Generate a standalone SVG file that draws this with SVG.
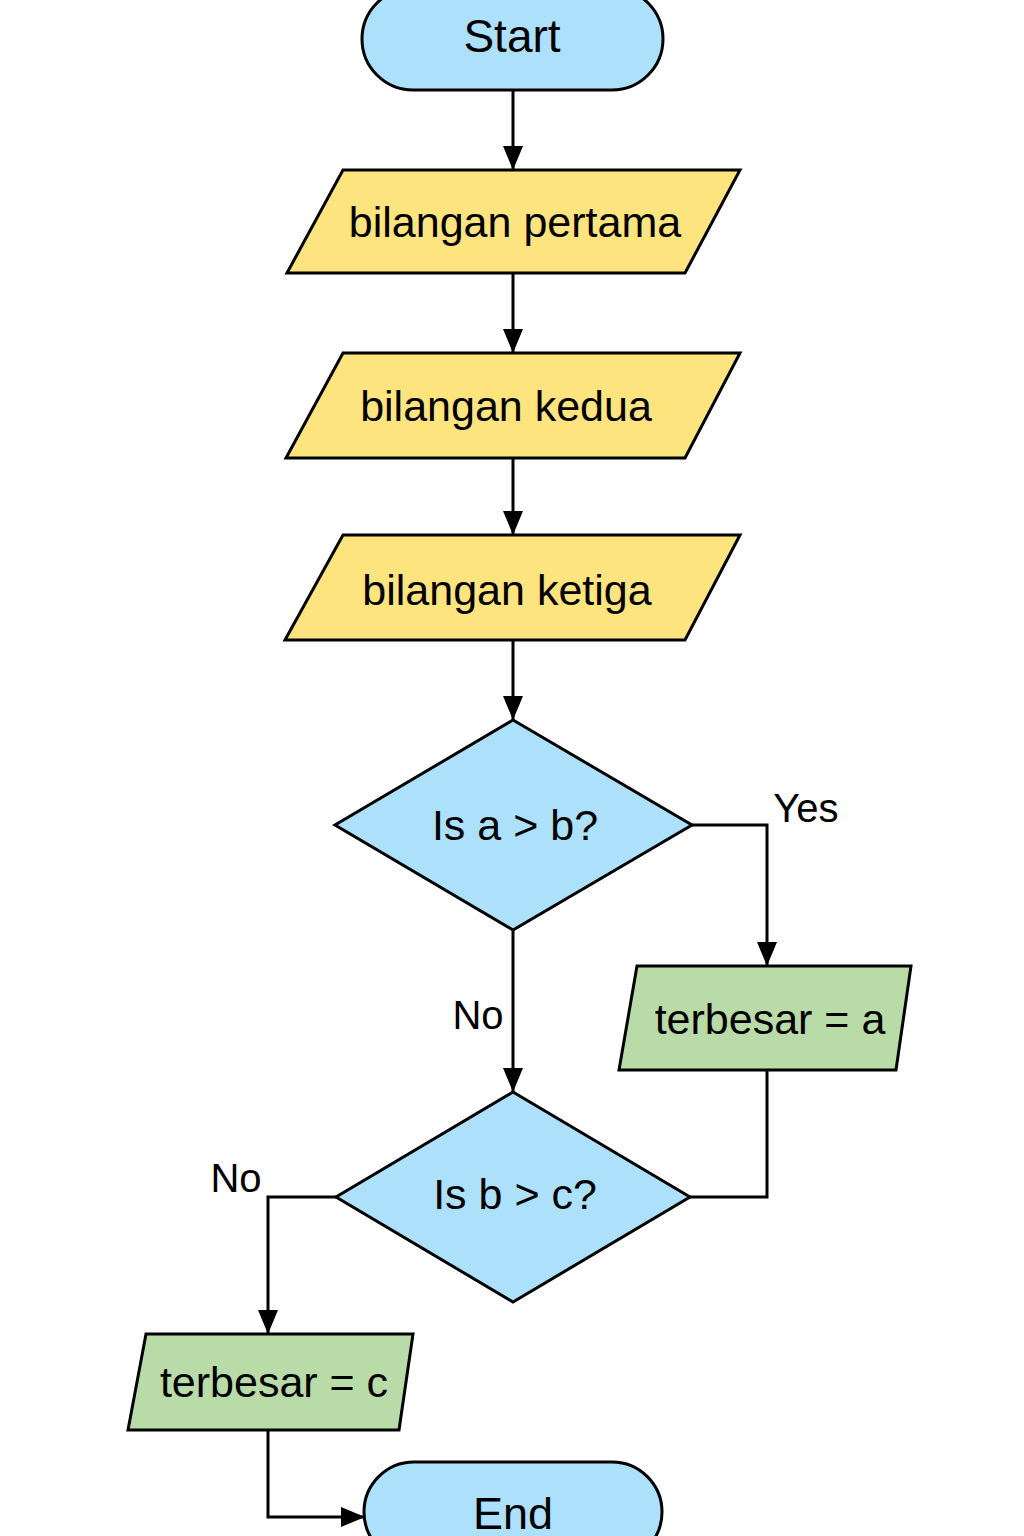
<svg xmlns="http://www.w3.org/2000/svg" width="1024" height="1536" viewBox="0 0 1024 1536">
<defs>
<marker id="arr" markerUnits="userSpaceOnUse" markerWidth="26" markerHeight="22" refX="24" refY="10" orient="auto">
<path d="M0,0 L24,10 L0,20 Z" fill="#000"/>
</marker>
<style>
.term{fill:#ADE1FB;stroke:#000;stroke-width:3}
.io{fill:#FDE47F;stroke:#000;stroke-width:3;stroke-linejoin:miter}
.out{fill:#B9DBA8;stroke:#000;stroke-width:3}
.dec{fill:#ADE1FB;stroke:#000;stroke-width:3}
.t{font-family:"Liberation Sans",Arial,sans-serif;font-size:43px;fill:#000;text-anchor:middle}
.lbl{font-family:"Liberation Sans",Arial,sans-serif;font-size:40px;fill:#000;text-anchor:middle}
.c{fill:none;stroke:#000;stroke-width:3}
</style>
</defs>
<rect width="1024" height="1536" fill="#fff"/>
<g id="connectors">
<line class="c" x1="513" y1="90" x2="513" y2="170" marker-end="url(#arr)"/>
<line class="c" x1="513" y1="273" x2="513" y2="353" marker-end="url(#arr)"/>
<line class="c" x1="513" y1="458" x2="513" y2="535" marker-end="url(#arr)"/>
<line class="c" x1="513" y1="640" x2="513" y2="720" marker-end="url(#arr)"/>
<polyline class="c" points="692,825 767,825 767,966" marker-end="url(#arr)"/>
<line class="c" x1="513" y1="930" x2="513" y2="1092" marker-end="url(#arr)"/>
<polyline class="c" points="767,1070 767,1197 690,1197"/>
<polyline class="c" points="336,1197 268,1197 268,1334" marker-end="url(#arr)"/>
<polyline class="c" points="268,1430 268,1517 365,1517" marker-end="url(#arr)"/>
<text class="lbl" x="806" y="822">Yes</text>
<text class="lbl" x="478" y="1029">No</text>
<text class="lbl" x="236" y="1192">No</text>
</g>
<g id="start">
<rect class="term" x="362" y="-12" width="301" height="102" rx="51"/>
<text class="t" x="512" y="52" style="font-size:46px">Start</text>
</g>
<g id="input1">
<polygon class="io" points="343,170 740,170 685,273 287,273"/>
<text class="t" x="515" y="237">bilangan pertama</text>
</g>
<g id="input2">
<polygon class="io" points="343,353 740,353 685,458 286,458"/>
<text class="t" x="506" y="421">bilangan kedua</text>
</g>
<g id="input3">
<polygon class="io" points="343,535 740,535 685,640 285,640"/>
<text class="t" x="507" y="605">bilangan ketiga</text>
</g>
<g id="decision1">
<polygon class="dec" points="513,720 692,825 513,930 335,825"/>
<text class="t" x="515" y="840">Is a &gt; b?</text>
</g>
<g id="outA">
<polygon class="out" points="637,966 911,966 896,1070 619,1070"/>
<text class="t" x="770" y="1034">terbesar = a</text>
</g>
<g id="decision2">
<polygon class="dec" points="513,1092 690,1197 513,1302 336,1197"/>
<text class="t" x="515" y="1209">Is b &gt; c?</text>
</g>
<g id="outC">
<polygon class="out" points="146,1334 413,1334 399,1430 128,1430"/>
<text class="t" x="274" y="1397">terbesar = c</text>
</g>
<g id="end">
<rect class="term" x="364" y="1462" width="298" height="100" rx="50"/>
<text class="t" x="513" y="1529" style="font-size:45px">End</text>
</g>
</svg>
